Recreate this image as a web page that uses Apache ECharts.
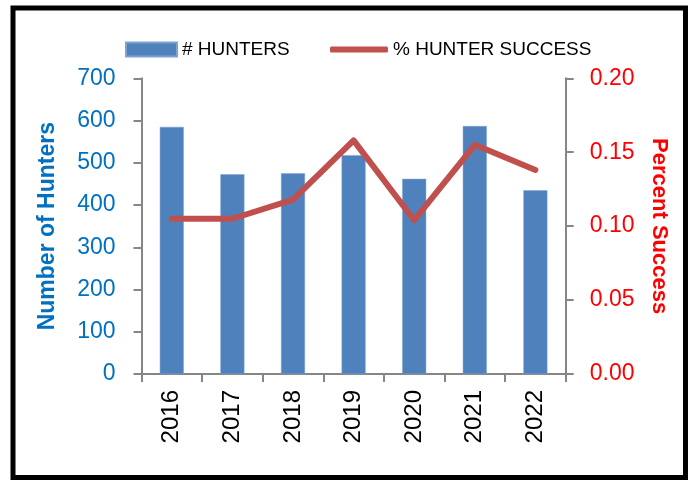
<!DOCTYPE html>
<html>
<head>
<meta charset="utf-8">
<script src="https://cdn.jsdelivr.net/npm/echarts@6/dist/echarts.min.js"></script>
<style>
html,body{margin:0;padding:0;background:#fff;}
#chart{width:691px;height:480px;}
</style>
</head>
<body>
<div id="chart"></div>
<script>
var years = ['2016','2017','2018','2019','2020','2021','2022'];
var hunters = [585, 473, 475, 518, 462, 587, 435];
var success = [0.105, 0.105, 0.118, 0.158, 0.104, 0.155, 0.138];
var leftTicks = {min: 0, max: 700, interval: 100};
var rightTicks = {min: 0, max: 0.2, interval: 0.05};

var font = "'Liberation Sans', Arial, sans-serif";
var axisGray = '#868686';

var chart = echarts.init(document.getElementById('chart'), null, {renderer: 'canvas'});
chart.setOption({
  animation: false,
  backgroundColor: '#fff',
  textStyle: {fontFamily: font},
  graphic: [{
    type: 'rect',
    shape: {x: 13, y: 8, width: 672.5, height: 469.5},
    style: {fill: 'none', stroke: '#000', lineWidth: 5}
  }],
  legend: [{
    left: 125,
    top: 40,
    padding: 0,
    itemWidth: 51,
    itemHeight: 14,
    textStyle: {fontFamily: font, fontSize: 19, color: '#000'},
    data: [{name: '# HUNTERS', icon: 'rect'}]
  }, {
    left: 330,
    top: 40,
    padding: 0,
    itemWidth: 58,
    itemHeight: 6,
    textStyle: {fontFamily: font, fontSize: 19, color: '#000'},
    data: [{name: '% HUNTER SUCCESS', icon: 'roundRect'}]
  }],
  grid: {left: 141.5, right: 125.3, top: 78.3, bottom: 106, containLabel: false},
  xAxis: {
    type: 'category',
    data: years,
    boundaryGap: true,
    axisLine: {lineStyle: {color: axisGray, width: 2}},
    axisTick: {show: true, length: 8, lineStyle: {color: axisGray, width: 2}, alignWithLabel: false},
    axisLabel: {rotate: 90, margin: 16, fontSize: 24, color: '#000', fontFamily: font}
  },
  yAxis: [{
    type: 'value',
    position: 'left',
    min: leftTicks.min, max: leftTicks.max, interval: leftTicks.interval,
    name: 'Number of Hunters',
    nameLocation: 'middle',
    nameRotate: 90,
    nameGap: 82,
    nameTextStyle: {fontSize: 23, fontWeight: 'bold', color: '#0070C0', fontFamily: font},
    axisLine: {show: true, lineStyle: {color: axisGray, width: 2}},
    axisTick: {show: true, length: 8, lineStyle: {color: axisGray, width: 2}},
    axisLabel: {margin: 26, fontSize: 23, color: '#0070C0', fontFamily: font},
    splitLine: {show: false}
  }, {
    type: 'value',
    position: 'right',
    min: rightTicks.min, max: rightTicks.max, interval: rightTicks.interval,
    name: 'Percent Success',
    nameLocation: 'middle',
    nameRotate: -90,
    nameGap: 82,
    nameTextStyle: {fontSize: 22, fontWeight: 'bold', color: '#FF0000', fontFamily: font},
    axisLine: {show: true, lineStyle: {color: axisGray, width: 2}},
    axisTick: {show: true, length: 8, lineStyle: {color: axisGray, width: 2}},
    axisLabel: {margin: 24, fontSize: 23, color: '#FF0000', fontFamily: font,
      formatter: function (v) { return v.toFixed(2); }},
    splitLine: {show: false}
  }],
  series: [{
    name: '# HUNTERS',
    type: 'bar',
    yAxisIndex: 0,
    data: hunters,
    barWidth: 24,
    itemStyle: {color: '#4F81BD', borderColor: '#7FA3D0', borderWidth: 0.5}
  }, {
    name: '% HUNTER SUCCESS',
    type: 'line',
    yAxisIndex: 1,
    data: success,
    symbol: 'none',
    lineStyle: {color: '#C0504D', width: 6, cap: 'round', join: 'round'},
    itemStyle: {color: '#C0504D'}
  }]
});
</script>
</body>
</html>
